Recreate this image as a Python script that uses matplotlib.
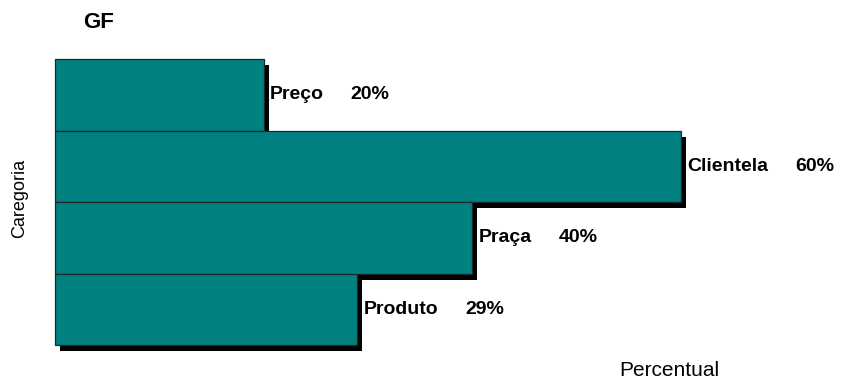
import matplotlib

matplotlib.use("Agg")
import matplotlib.pyplot as plt
from matplotlib.transforms import offset_copy

plt.rcParams["font.family"] = ["Liberation Sans", "DejaVu Sans"]

categories = ["Preço", "Clientela", "Praça", "Produto"]
values = [20, 60, 40, 29]
value_labels = ["20%", "60%", "40%", "29%"]

BAR = "#008080"

fig = plt.figure(figsize=(8.41, 3.81), dpi=100)
ax = fig.add_axes([55 / 841, 36 / 381, 786 / 841, 286 / 381])

y = list(range(len(categories)))

# drop shadow: same bars shifted a few pixels right/down, drawn underneath
shadow = offset_copy(ax.transData, fig=fig, x=5, y=-6, units="dots")
ax.barh(y, values, height=1.0, color="black", transform=shadow, zorder=1, clip_on=False)
ax.barh(y, values, height=1.0, color=BAR, edgecolor="#1a2a2a", linewidth=0.9,
        zorder=2, clip_on=False)

for yi, v, name, lab in zip(y, values, categories, value_labels):
    t = ax.text(v + 0.6, yi, name, va="center", ha="left",
                fontsize=14, fontweight="bold", zorder=3)
    ax.annotate(lab, xy=(1, 0.5), xycoords=t, xytext=(27, 0), textcoords="offset pixels",
                va="center", ha="left", fontsize=14, fontweight="bold", zorder=3)

ax.set_xlim(0, 786 / 10.43)
ax.set_ylim(len(categories) - 0.5, -0.5)
ax.axis("off")

fig.text(83 / 841, 1 - 23 / 381, "GF", fontsize=16, fontweight="bold", va="center", ha="left")
fig.text(20 / 841, 1 - 198 / 381, "Caregoria", rotation=90, fontsize=13, va="center", ha="center")
fig.text(669 / 841, 1 - 371 / 381, "Percentual", fontsize=15, va="center", ha="center")

fig.savefig("out.png", dpi=100)
